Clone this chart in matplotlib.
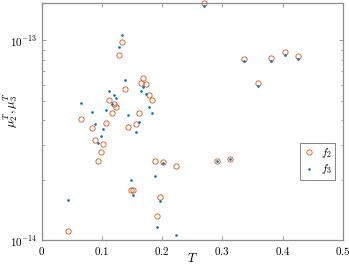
import matplotlib
matplotlib.use('Agg')
import matplotlib.pyplot as plt
from matplotlib.ticker import FixedLocator, FixedFormatter, LogLocator, NullFormatter

plt.rcParams['mathtext.fontset'] = 'cm'
plt.rcParams['font.family'] = 'serif'

T = [0.044, 0.066, 0.084, 0.089, 0.093, 0.098, 0.102, 0.107, 0.111, 0.116,
     0.120, 0.124, 0.129, 0.134, 0.138, 0.143, 0.148, 0.152, 0.156, 0.161,
     0.165, 0.169, 0.174, 0.179, 0.183, 0.188, 0.192, 0.197, 0.201, 0.223,
     0.269, 0.291, 0.313, 0.336, 0.359, 0.381, 0.404, 0.426]

f2 = [1.11e-14, 4.06e-14, 3.63e-14, 3.17e-14, 2.50e-14, 2.75e-14, 3.04e-14, 3.87e-14, 5.05e-14, 4.32e-14,
      4.83e-14, 4.64e-14, 8.49e-14, 9.77e-14, 5.72e-14, 3.69e-14, 1.78e-14, 1.78e-14, 3.82e-14, 4.35e-14,
      6.14e-14, 6.46e-14, 6.05e-14, 5.30e-14, 5.01e-14, 2.50e-14, 1.32e-14, 1.65e-14, 2.45e-14, 2.34e-14,
      1.54e-13, 2.50e-14, 2.56e-14, 8.06e-14, 6.10e-14, 8.16e-14, 8.71e-14, 8.39e-14]

f3 = [1.58e-14, 4.88e-14, 4.39e-14, 3.80e-14, 3.07e-14, 3.32e-14, 3.61e-14, 4.47e-14, 5.61e-14, 4.79e-14,
      5.33e-14, 5.17e-14, 9.26e-14, 1.063e-13, 6.37e-14, 4.21e-14, 2.00e-14, 1.68e-14, 3.47e-14, 3.89e-14,
      5.56e-14, 5.82e-14, 5.37e-14, 4.64e-14, 4.34e-14, 2.10e-14, 1.16e-14, 1.56e-14, 2.44e-14, 1.06e-14,
      1.49e-13, 2.50e-14, 2.56e-14, 7.92e-14, 5.94e-14, 7.92e-14, 8.41e-14, 8.06e-14]

xticks = [0, 0.1, 0.2, 0.3, 0.4, 0.5]
xlabels = ['$0$', '$0.1$', '$0.2$', '$0.3$', '$0.4$', '$0.5$']

orange = '#D95319'
blue = '#0072BD'
axcol = '#8c8c8c'

fig = plt.figure(figsize=(3.49, 2.66), dpi=100)
ax = fig.add_axes([0.1195, 0.0977, 0.8625, 0.891])

ax.plot(T, f2, 'o', mfc='none', mec=orange, ms=3.8, mew=0.6, label='$f_2$', clip_on=False)
ax.plot(T, f3, 'o', mfc=blue, mec=blue, ms=1.9, mew=0, label='$f_3$', clip_on=False)

ax.set_yscale('log')
ax.set_xlim(0, 0.5)
ax.set_ylim(1e-14, 1.54e-13)

ax.xaxis.set_major_locator(FixedLocator(xticks))
ax.xaxis.set_major_formatter(FixedFormatter(xlabels))
ax.yaxis.set_major_locator(FixedLocator([1e-14, 1e-13]))
ax.yaxis.set_major_formatter(FixedFormatter(['$10^{-14}$', '$10^{-13}$']))
ax.yaxis.set_minor_locator(LogLocator(base=10, subs=range(2, 10)))
ax.yaxis.set_minor_formatter(NullFormatter())

ax.tick_params(which='both', direction='in', top=True, right=True, color=axcol,
               labelsize=8, labelcolor='black')
ax.tick_params(which='major', length=3, width=0.6)
ax.tick_params(which='minor', length=1.8, width=0.5)
for s in ax.spines.values():
    s.set_color(axcol)
    s.set_linewidth(0.9)

ax.set_xlabel('$T$', fontsize=9)
ax.xaxis.set_label_coords(0.5, -0.05)
ax.set_ylabel(r'$\mu_2^T, \mu_3^T$', fontsize=9)
ax.yaxis.set_label_coords(-0.072, 0.55)

leg = ax.legend(loc='upper left', bbox_to_anchor=(0.857, 0.41), fontsize=8,
                frameon=True, fancybox=False, handlelength=1.0, handletextpad=0.6,
                borderpad=0.3, labelspacing=0.2, borderaxespad=0)
leg.get_frame().set_edgecolor('#4d4d4d')
leg.get_frame().set_linewidth(0.6)

fig.savefig('out.png', dpi=100)
